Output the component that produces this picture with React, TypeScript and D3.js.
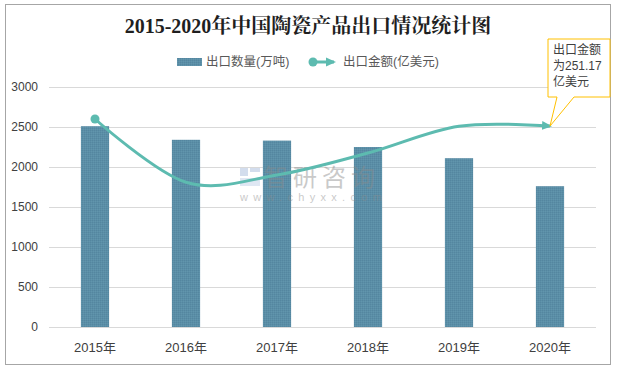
import React from "react";
import * as d3 from "d3";

const years = ["2015年", "2016年", "2017年", "2018年", "2019年", "2020年"];
const volume = [2510, 2340, 2330, 2250, 2110, 1760]; // 出口数量(万吨)
const amount = [260, 181, 190, 217.5, 251, 251.17]; // 出口金额(亿美元)
const yTicks = [0, 500, 1000, 1500, 2000, 2500, 3000];
const title = "2015-2020年中国陶瓷产品出口情况统计图";
const legendBar = "出口数量(万吨)";
const legendLine = "出口金额(亿美元)";
const calloutLines = ["出口金额", "为251.17", "亿美元"];

const W = 618;
const H = 369;
const sansFont = "'Liberation Sans', 'Noto Sans CJK SC', sans-serif";
const serifFont = "'Liberation Serif', 'Noto Serif CJK SC', 'Noto Sans CJK SC', serif";
const barColor = "#5b8ea6";
const lineColor = "#5dbbb0";

export default function App() {
  const x = d3
    .scaleBand<string>()
    .domain(years)
    .range([49.5, 595.5])
    .paddingInner(0.69)
    .paddingOuter(0.345);
  const y = d3.scaleLinear().domain([0, 3000]).range([327, 87]);
  const cx = (d: string) => (x(d) as number) + x.bandwidth() / 2;

  const linePts: [number, number][] = years.map((d, i) => [cx(d), y(amount[i] * 10)]);
  const linePath = d3.line().curve(d3.curveCardinal.tension(0))(linePts) || "";

  const last = linePts[linePts.length - 1];
  const bx0 = 548, bx1 = 610, by0 = 39, by1 = 97;
  const callout = `M${bx0},${by0} H${bx1} V${by1} H574 L${last[0]},${last[1]} L557,${by1} H${bx0} Z`;

  return (
    <svg
      width={W}
      height={H}
      style={{ position: "absolute", left: 0, top: 0, background: "#fff" }}
    >
      <defs>
        <pattern id="dots" width="2" height="2" patternUnits="userSpaceOnUse">
          <rect width="2" height="2" fill={barColor} />
          <rect x="0" y="0" width="1" height="1" fill="#5486a0" />
          <rect x="1" y="1" width="1" height="1" fill="#6195ad" />
        </pattern>
        <marker
          id="arrow"
          viewBox="0 -5 10 10"
          refX="8"
          refY="0"
          markerWidth="10"
          markerHeight="10"
          markerUnits="userSpaceOnUse"
          orient="auto"
        >
          <path d="M0,-4.5 L10,0 L0,4.5 Z" fill={lineColor} />
        </marker>
      </defs>

      <rect x={5.5} y={4.5} width={605} height={360} fill="#fff" stroke="#a6a6a6" strokeWidth={1} />

      <text
        x={308}
        y={33}
        textAnchor="middle"
        fontFamily={serifFont}
        fontWeight="bold"
        fontSize={20}
        fill="#1f1f1f"
      >
        {title}
      </text>

      {/* legend */}
      <rect x={177} y={58} width={25} height={8} fill="url(#dots)" />
      <text x={206} y={66} fontFamily={sansFont} fontSize={12.5} fill="#595959">
        {legendBar}
      </text>
      <line x1={313} y1={62} x2={334} y2={62} stroke={lineColor} strokeWidth={3} markerEnd="url(#arrow)" />
      <circle cx={313} cy={62} r={4.5} fill={lineColor} />
      <text x={343} y={66} fontFamily={sansFont} fontSize={12.5} fill="#595959">
        {legendLine}
      </text>

      {/* grid */}
      {yTicks.map((t) => (
        <g key={t}>
          <line x1={49} x2={596} y1={y(t) + 0.5} y2={y(t) + 0.5} stroke="#d9d9d9" strokeWidth={1} />
          <text
            x={38}
            y={y(t)}
            dy="0.35em"
            textAnchor="end"
            fontFamily={sansFont}
            fontSize={12}
            fill="#404040"
          >
            {t}
          </text>
        </g>
      ))}

      {/* bars */}
      {years.map((d, i) => (
        <rect
          key={d}
          x={x(d)}
          y={y(volume[i])}
          width={x.bandwidth()}
          height={y(0) - y(volume[i])}
          fill="url(#dots)"
        />
      ))}

      {/* x labels */}
      {years.map((d) => (
        <text
          key={d}
          x={cx(d)}
          y={352}
          textAnchor="middle"
          fontFamily={sansFont}
          fontSize={13}
          fill="#404040"
        >
          {d}
        </text>
      ))}

      {/* watermark */}
      <g opacity={0.45}>
        <rect x={240} y={168} width={8} height={8} fill="#9fb6d9" />
        <rect x={250} y={168} width={10} height={4} fill="#9fb6d9" />
        <rect x={240} y={178} width={20} height={8} fill="#b9cbe6" />
        <text x={264} y={186} fontFamily={sansFont} fontSize={24} letterSpacing={5} fill="#8a8a8a">
          智研咨询
        </text>
        <text x={240} y={201} fontFamily={sansFont} fontSize={11} letterSpacing={5.3} fill="#8a8a8a">
          www.chyxx.com
        </text>
      </g>

      {/* line */}
      <path d={linePath} fill="none" stroke={lineColor} strokeWidth={3} markerEnd="url(#arrow)" />
      <circle cx={linePts[0][0]} cy={linePts[0][1]} r={4.5} fill={lineColor} />

      {/* callout */}
      <path d={callout} fill="#fff" stroke="#ffc000" strokeWidth={1} />
      {calloutLines.map((s, i) => (
        <text
          key={i}
          x={553}
          y={54 + i * 16}
          fontFamily={sansFont}
          fontSize={12}
          fill="#404040"
        >
          {s}
        </text>
      ))}
    </svg>
  );
}
